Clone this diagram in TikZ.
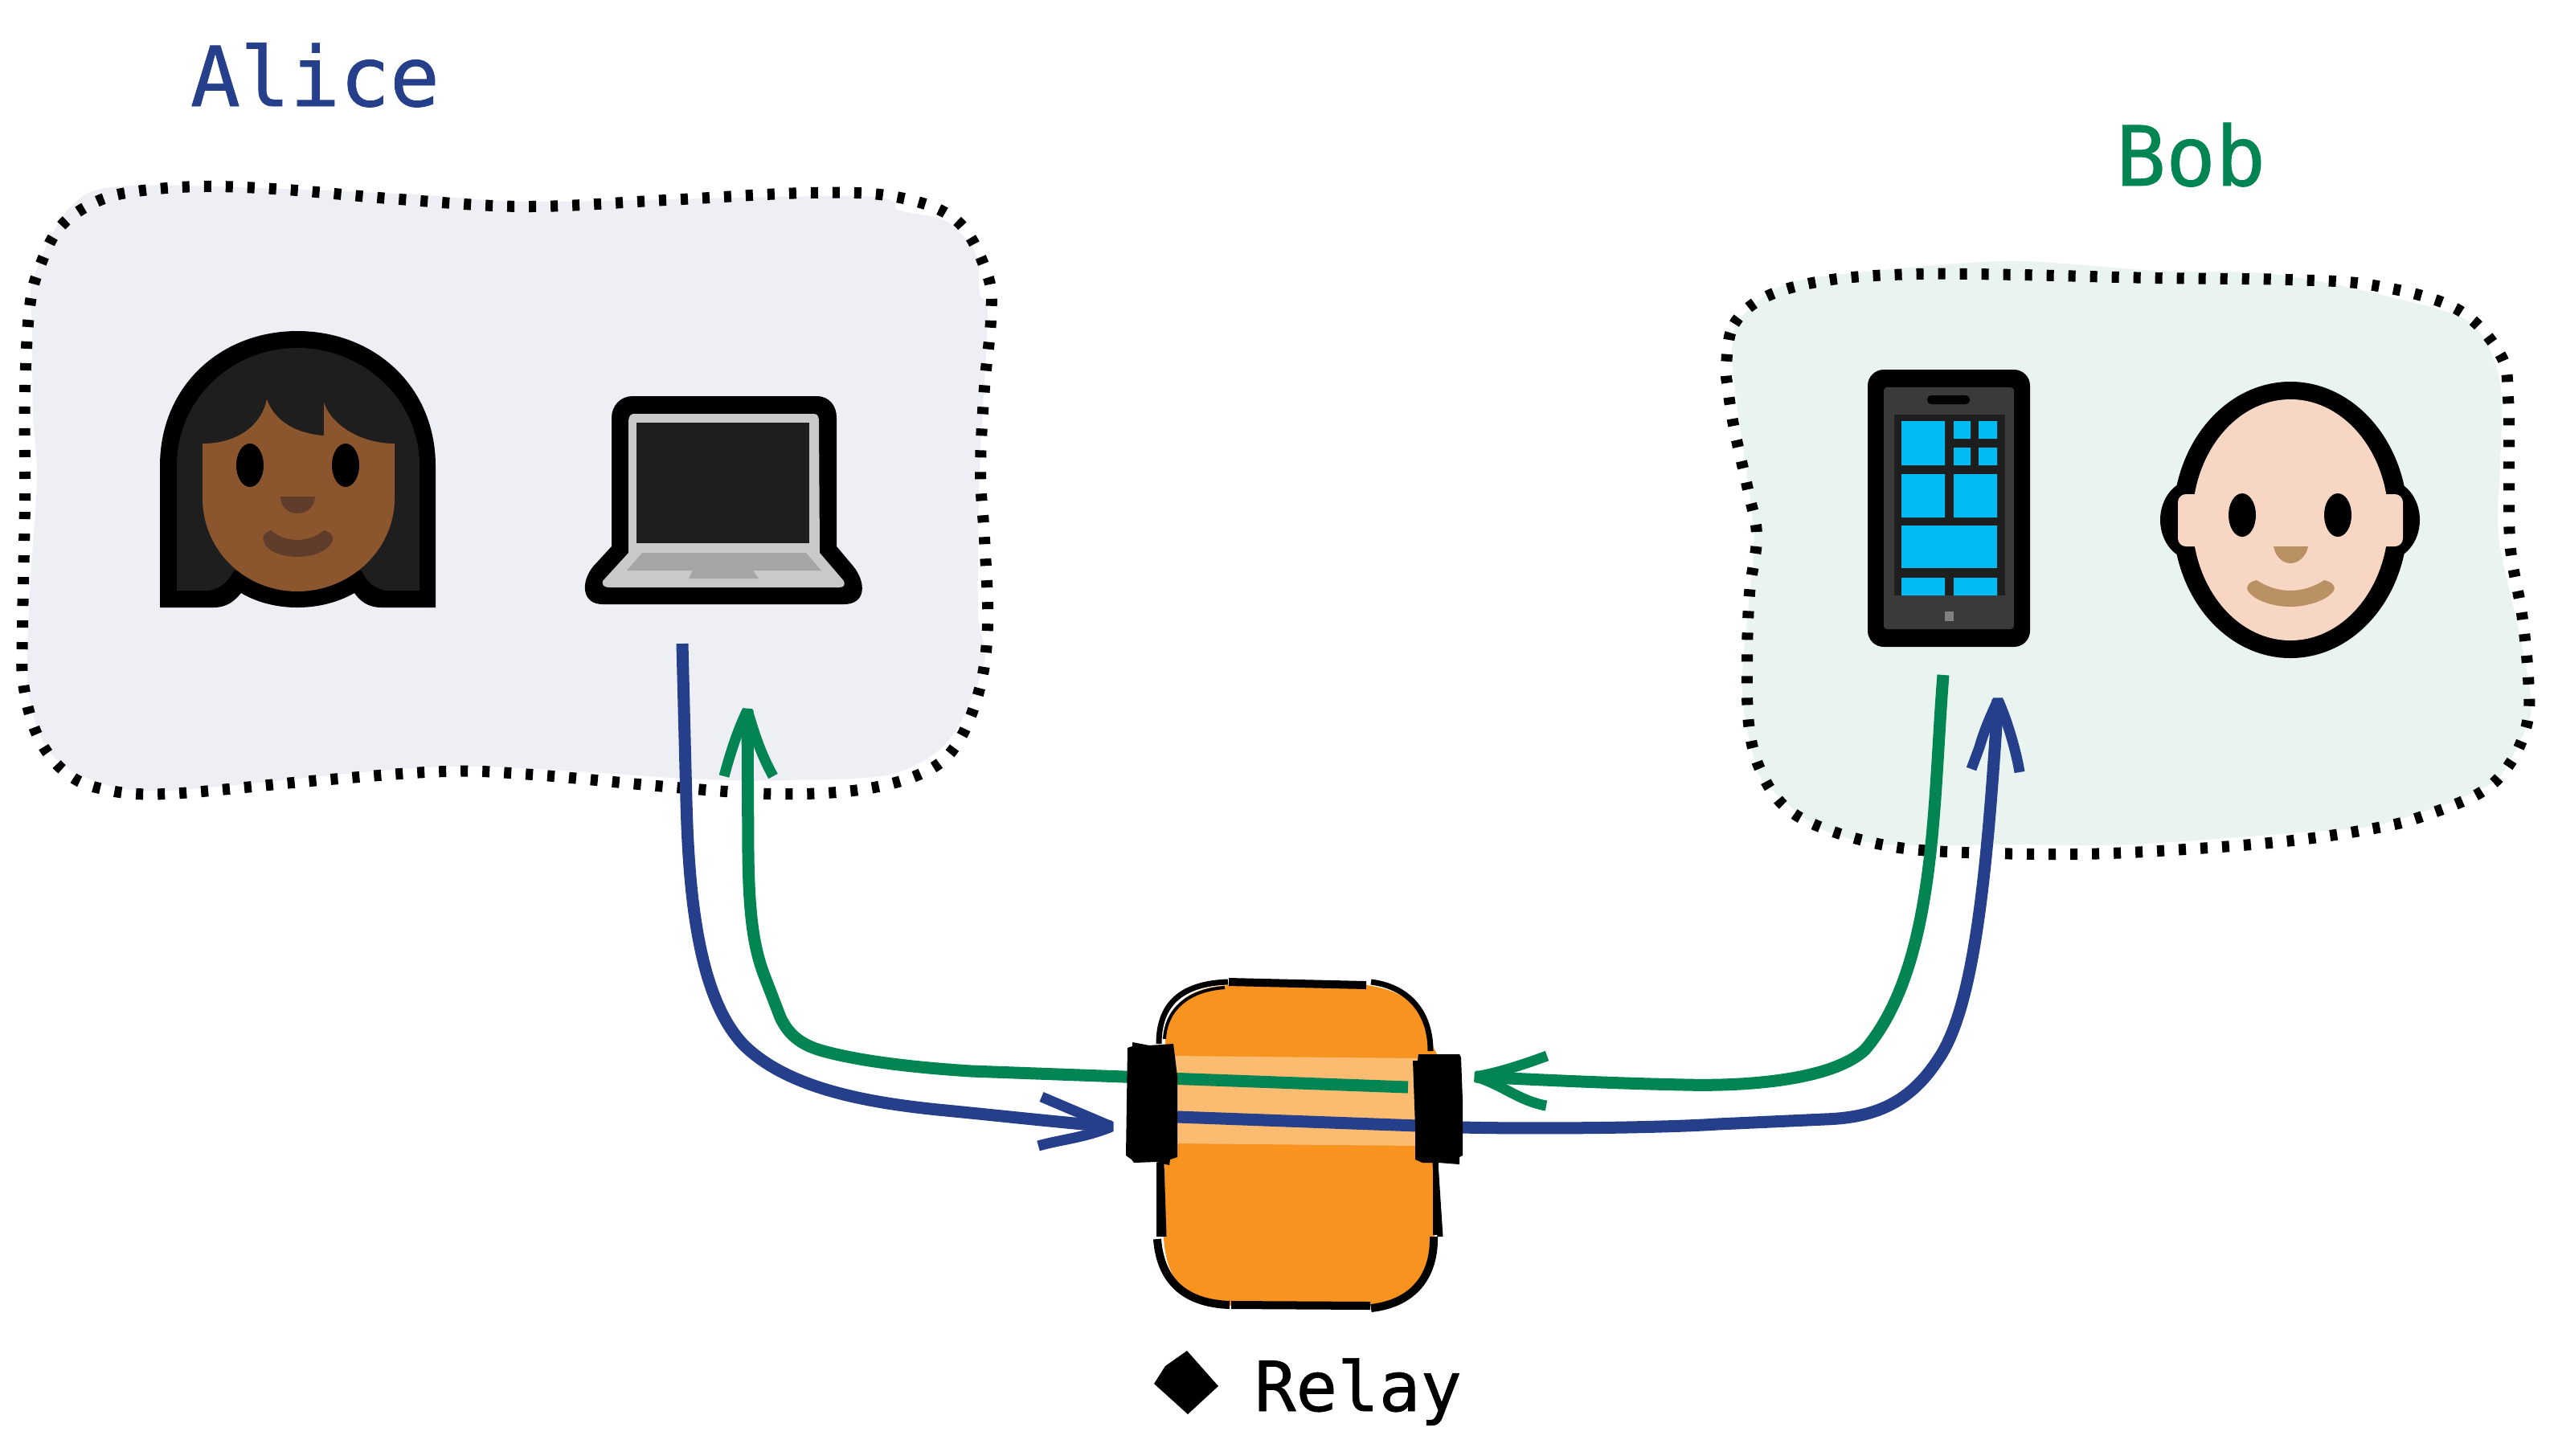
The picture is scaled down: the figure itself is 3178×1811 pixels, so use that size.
\documentclass[tikz,border=0pt]{standalone}
\usepackage{fontspec}
\newfontfamily\labelfont[BoldFont={DejaVu Sans Mono},BoldFeatures={FakeBold=0.8}]{DejaVu Sans Mono}
\definecolor{aliceblue}{HTML}{253F8A}
\definecolor{bobgreen}{HTML}{028552}
\definecolor{alicebg}{HTML}{EEEFF5}
\definecolor{bobbg}{HTML}{E9F3EF}
\definecolor{relayorange}{HTML}{F7931E}
\definecolor{relayband}{HTML}{FBBC71}
\definecolor{hair}{HTML}{1E1E1E}
\definecolor{darkskin}{HTML}{8B562D}
\definecolor{darklip}{HTML}{603C2B}
\definecolor{lightskin}{HTML}{F7D7C4}
\definecolor{lightlip}{HTML}{BA9165}
\definecolor{lapgrey}{HTML}{C9C9C9}
\definecolor{keygrey}{HTML}{A5A5A5}
\definecolor{phonegrey}{HTML}{3A3A3A}
\definecolor{tile}{HTML}{00BCF2}
\tikzset{
	blobline/.style={black,line width=0.14cm,dash pattern=on 0.09cm off 0.18cm},
	blueline/.style={aliceblue,line width=0.15cm},
	greenline/.style={bobgreen,line width=0.15cm},
	bluehead/.style={aliceblue,line width=0.13cm,line join=bevel},
	greenhead/.style={bobgreen,line width=0.13cm,line join=bevel},
	inkline/.style={black,line width=0.07cm},
	inkthick/.style={black,line width=0.1cm},
	namelabel/.style={anchor=base,inner sep=0pt,font=\labelfont\bfseries\fontsize{29.3}{32}\selectfont}
}
\begin{document}
\begin{tikzpicture}[x=0.01cm,y=-0.01cm]
	\useasboundingbox (0,0) rectangle (3178,1811);

	\fill[alicebg] plot[smooth cycle,tension=0.5] coordinates {(40,408) (41,348) (87,258) (166,231) (497,241) (663,251) (1069,244) (1119,262) (1177,275) (1214,315) (1219,365) (1229,395) (1219,583) (1217,763) (1225,824) (1181,921) (1107,964) (970,971) (854,969) (555,954) (207,984) (108,968) (58,931) (35,857) (37,737) (46,596) (41,516)};
	\draw[blobline] plot[smooth cycle,tension=0.6] coordinates {(28,783) (31,623) (31,489) (37,382) (51,328) (76,281) (120,251) (170,238) (253,232) (356,236) (497,248) (655,257) (829,249) (1007,240) (1115,245) (1191,275) (1229,343) (1233,397) (1225,482) (1220,586) (1225,670) (1229,777) (1219,857) (1190,927) (1148,962) (1069,983) (962,988) (829,979) (663,964) (555,960) (398,971) (207,988) (124,981) (79,959) (46,914) (29,850)};

	\fill[bobbg] plot[smooth cycle,tension=0.5] coordinates {(2155,438) (2165,397) (2227,352) (2375,333) (2513,325) (2684,337) (2829,341) (2980,371) (3076,403) (3111,476) (3111,579) (3109,668) (3135,789) (3150,878) (3135,923) (3097,977) (2966,1025) (2849,1037) (2650,1051) (2499,1051) (2348,1051) (2265,1031) (2196,974) (2182,942) (2169,878) (2169,821) (2182,687) (2179,630) (2162,508)};
	\draw[blobline] plot[smooth cycle,tension=0.6] coordinates {(2148,454) (2158,403) (2200,368) (2279,348) (2385,341) (2513,342) (2684,346) (2846,348) (2953,355) (3056,384) (3111,441) (3121,496) (3122,604) (3124,684) (3138,764) (3146,843) (3145,898) (3124,949) (3087,986) (3014,1016) (2959,1030) (2853,1046) (2719,1057) (2581,1063) (2423,1060) (2341,1051) (2262,1028) (2217,1000) (2189,955) (2176,901) (2174,821) (2177,738) (2186,668) (2176,614) (2158,534) (2150,483)};

	\node[namelabel,text=aliceblue] (alicename) at (392,132) {Alice};
	\node[namelabel,text=bobgreen] (bobname) at (2726,231) {Bob};
	\node[namelabel,font=\labelfont\bfseries\fontsize{24.4}{26}\selectfont] (relayname) at (1690,1756) {Relay};

	\fill[black] (199,756) -- (199,580) .. controls (199,480) and (275,412) .. (370,412) .. controls (465,412) and (542,480) .. (542,580) -- (542,756) -- (475,756) .. controls (458,756) and (448,748) .. (441,738) .. controls (420,750) and (395,756) .. (370,756) .. controls (345,756) and (320,750) .. (300,738) .. controls (292,748) and (282,756) .. (266,756) -- cycle;
	\fill[hair] (220,735) -- (220,580) .. controls (220,495) and (290,433) .. (370,433) .. controls (450,433) and (522,495) .. (522,580) -- (522,735) -- (481,735) .. controls (465,733) and (455,722) .. (450,710) -- (291,710) .. controls (285,722) and (275,733) .. (259,735) -- cycle;
	\fill[darkskin] (252,552) .. controls (295,552) and (325,530) .. (332,497) .. controls (342,525) and (370,540) .. (403,542) -- (403,501) .. controls (413,530) and (450,552) .. (491,552) -- (491,620) .. controls (491,685) and (435,736) .. (370,736) .. controls (305,736) and (252,685) .. (252,620) -- cycle;
	\fill[black] (311,579) ellipse (17 and 27);
	\fill[black] (430,579) ellipse (17 and 27);
	\fill[darklip] (349,618) -- (392,618) .. controls (392,630) and (382,639) .. (370,639) .. controls (358,639) and (349,630) .. (349,618) -- cycle;
	\fill[darklip] (337,660) .. controls (345,667) and (357,672) .. (370,672) .. controls (383,672) and (395,667) .. (403,660) .. controls (412,662) and (416,668) .. (414,673) .. controls (410,685) and (390,693) .. (370,693) .. controls (350,693) and (330,685) .. (328,673) .. controls (325,668) and (330,662) .. (337,660) -- cycle;

	\fill[black] (787,493) -- (1016,493) .. controls (1032,493) and (1041,505) .. (1041,520) -- (1041,680) -- (1062,705) .. controls (1078,725) and (1078,752) .. (1050,752) -- (750,752) .. controls (724,752) and (722,725) .. (738,705) -- (761,680) -- (761,520) .. controls (761,505) and (772,493) .. (787,493) -- cycle;
	\fill[lapgrey] (788,515) -- (1013,515) .. controls (1018,515) and (1019,520) .. (1019,525) -- (1020,688) -- (1050,723) .. controls (1052,728) and (1050,731) .. (1044,731) -- (759,731) .. controls (751,731) and (749,728) .. (750,723) -- (782,688) -- (782,525) .. controls (782,520) and (784,515) .. (788,515) -- cycle;
	\fill[hair] (792,526) rectangle (1007,676);
	\fill[keygrey] (799,688) -- (1003,688) -- (1022,710) -- (937,710) -- (944,720) -- (857,720) -- (862,710) -- (780,710) -- cycle;

	\fill[black,rounded corners=0.2cm] (2324,460) rectangle (2526,805);
	\fill[phonegrey,rounded corners=0.04cm] (2344,482) rectangle (2506,783);
	\fill[black,rounded corners=0.05cm] (2398,492) rectangle (2451,503);
	\fill[hair] (2357,516) rectangle (2495,741);
	\fill[tile] (2366,524) rectangle (2420,579) (2431,524) rectangle (2452,546) (2462,524) rectangle (2485,546);
	\fill[tile] (2431,557) rectangle (2452,579) (2462,557) rectangle (2485,579);
	\fill[tile] (2366,590) rectangle (2420,644) (2431,590) rectangle (2485,644);
	\fill[tile] (2366,654) rectangle (2485,707);
	\fill[tile] (2366,719) rectangle (2420,741) (2431,719) rectangle (2485,741);
	\fill[gray] (2420,761) rectangle (2431,773);

	\fill[black] (2730,647) ellipse (42 and 50);
	\fill[black] (2969,647) ellipse (42 and 50);
	\fill[black] (2850,647) ellipse (146 and 172);
	\fill[lightskin,rounded corners=0.1cm] (2710,615) rectangle (2990,680);
	\fill[lightskin] (2850,647) ellipse (122 and 150);
	\fill[black] (2790,641) ellipse (17 and 27);
	\fill[black] (2909,641) ellipse (17 and 27);
	\fill[lightlip] (2829,680) -- (2872,680) .. controls (2870,692) and (2860,701) .. (2850,701) .. controls (2840,701) and (2831,692) .. (2829,680) -- cycle;
	\fill[lightlip] (2808,722) .. controls (2820,730) and (2835,735) .. (2850,735) .. controls (2865,735) and (2880,730) .. (2892,722) .. controls (2902,724) and (2907,730) .. (2904,735) .. controls (2895,748) and (2870,755) .. (2850,755) .. controls (2830,755) and (2805,748) .. (2797,735) .. controls (2794,730) and (2798,724) .. (2808,722) -- cycle;

	\fill[relayorange] (1450,1300) .. controls (1450,1250) and (1480,1228) .. (1530,1226) -- (1700,1226) .. controls (1750,1232) and (1782,1260) .. (1782,1300) -- (1792,1320) -- (1785,1540) .. controls (1785,1590) and (1760,1620) .. (1705,1625) -- (1505,1625) .. controls (1465,1610) and (1450,1580) .. (1448,1540) -- cycle;
	\fill[relayband] (1460,1314) -- (1765,1317) -- (1763,1426) -- (1460,1423) -- cycle;

	\draw[inkline] (1528,1222) .. controls (1468,1224) and (1442,1251) .. (1442,1299);
	\draw[inkline,line width=0.04cm] (1524,1229) .. controls (1480,1232) and (1451,1255) .. (1449,1293);
	\draw[inkthick] (1529,1222) -- (1700,1226);
	\draw[inkline] (1706,1222) .. controls (1752,1228) and (1780,1259) .. (1780,1308);
	\draw[inkline] (1442,1447) -- (1442,1539);
	\draw[inkline] (1445,1447) -- (1448,1539);
	\draw[inkline] (1786,1447) -- (1786,1537);
	\draw[inkline] (1786,1447) -- (1792,1539);
	\draw[inkthick] (1440,1542) .. controls (1444,1596) and (1476,1622) .. (1530,1624);
	\draw[inkthick] (1532,1624) -- (1705,1625);
	\draw[inkthick] (1706,1628) .. controls (1759,1622) and (1785,1588) .. (1784,1539);

	\coordinate (relayright) at (1752,1353);
	\coordinate (relayleft) at (1465,1390);
	\coordinate (alicein) at (930,884);
	\coordinate (aliceout) at (849,801);
	\coordinate (relayin) at (1383,1402);
	\coordinate (bobin) at (2486,871);
	\coordinate (bobout) at (2418,840);
	\coordinate (relaygreen) at (1836,1340);

	\draw[greenline] (relayright) -- (1208,1333) .. controls (1130,1328) and (1070,1320) .. (1028,1309) .. controls (1000,1302) and (982,1290) .. (971,1266) -- (951,1214) .. controls (938,1180) and (932,1140) .. (931,1062) -- (alicein);
	\draw[greenhead] (901,966) .. controls (912,925) and (922,900) .. (alicein) .. controls (938,910) and (945,935) .. (962,966);
	\draw[blueline] (aliceout) -- (854,997) .. controls (857,1110) and (868,1240) .. (925,1300) .. controls (980,1355) and (1080,1372) .. (1167,1381) .. controls (1240,1388) and (1320,1397) .. (relayin);
	\draw[bluehead] (1296,1365) -- (relayin) .. controls (1350,1416) and (1320,1418) .. (1292,1426);

	\draw[blueline] (relayleft) -- (1819,1403) .. controls (1900,1405) and (2060,1404) .. (2137,1399) -- (2270,1393) .. controls (2330,1391) and (2375,1375) .. (2412,1318) .. controls (2455,1255) and (2472,1100) .. (bobin);
	\draw[bluehead] (2453,957) -- (2463,930) .. controls (2470,905) and (2480,885) .. (bobin) .. controls (2495,890) and (2508,930) .. (2513,961);
	\draw[greenline] (bobout) .. controls (2405,1000) and (2410,1200) .. (2321,1306) .. controls (2280,1345) and (2170,1352) .. (2096,1350) .. controls (2000,1348) and (1920,1344) .. (relaygreen);
	\draw[greenhead] (1925,1314) .. controls (1895,1325) and (1865,1335) .. (relaygreen) .. controls (1870,1350) and (1890,1370) .. (1924,1376);

	\fill[black] (1409,1297) -- (1430,1301) -- (1460,1299) -- (1465,1339) -- (1465,1440) -- (1456,1443) -- (1455,1450) -- (1438,1446) -- (1411,1447) -- (1408,1443) -- (1401,1438) -- (1403,1304) -- (1409,1302) -- cycle;
	\fill[black] (1765,1312) -- (1816,1312) -- (1818,1316) -- (1820,1369) -- (1820,1438) -- (1816,1440) -- (1816,1449) -- (1790,1447) -- (1770,1447) -- (1761,1443) -- (1761,1403) -- (1758,1320) -- (1764,1320) -- cycle;
	\fill[black] (1477,1681) -- (1516,1725) -- (1478,1760) -- (1436,1722) -- (1450,1700) -- cycle;
\end{tikzpicture}
\end{document}
